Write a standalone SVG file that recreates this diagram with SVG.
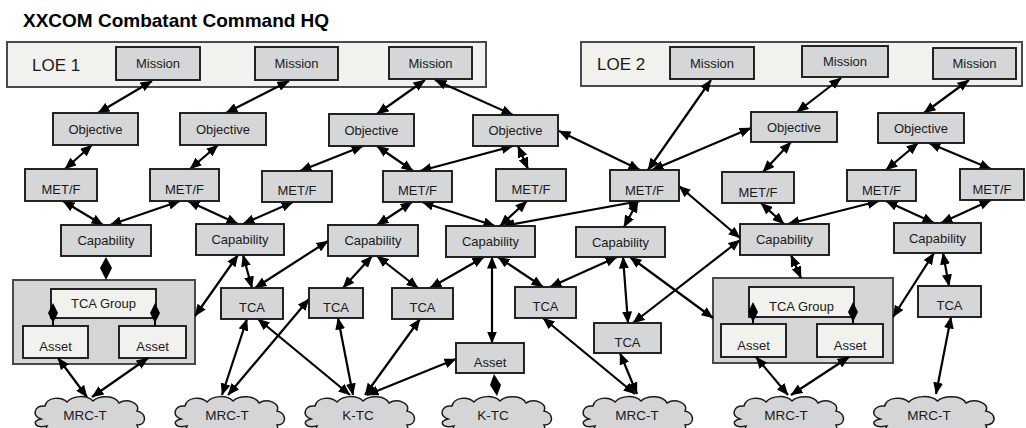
<svg xmlns="http://www.w3.org/2000/svg" xmlns:xlink="http://www.w3.org/1999/xlink" width="1026" height="428" viewBox="0 0 1026 428">
  <style>
    .box{fill:#d5d6d8;stroke:#1a1a1a;stroke-width:1.9}
    .lt{fill:#f1f1ed;stroke:#1a1a1a;stroke-width:1.9}
    .band{fill:#f1f1ed;stroke:#4a4a4a;stroke-width:2}
    .grp{fill:#d5d5d6;stroke:#4a4a4a;stroke-width:2}
    .cloud{fill:#d5d5d7;stroke:#1a1a1a;stroke-width:1.5}
    .dia{fill:#000}
    text{font-family:"Liberation Sans",Arial,Helvetica,sans-serif;font-size:13px;fill:#1a1a1a;text-anchor:middle}
    .title{font-size:19px;font-weight:bold;text-anchor:start;fill:#000}
    .loe{font-size:17px;text-anchor:start}
    .ctext{font-size:13.5px}
    #connectors line{stroke:#000;stroke-width:2.2;marker-start:url(#ah);marker-end:url(#ah)}
  </style>
  <defs>
    <marker id="ah" viewBox="0 0 12 10" refX="11.5" refY="5" markerWidth="12" markerHeight="10" markerUnits="userSpaceOnUse" orient="auto-start-reverse">
      <path d="M0,0 L12,5 L0,10 z" fill="#000"/>
    </marker>
    <path id="cloud" class="cloud" d="M -48,4 C -58,0 -54,-10 -44,-9 C -42,-18 -28,-19 -22,-13 C -16,-20 -2,-20 4,-14 C 10,-20 26,-20 30,-12 C 38,-17 52,-12 48,-4 C 58,-2 58,10 48,10 C 52,18 40,22 32,16 C 26,22 12,22 6,17 C -2,22 -18,22 -22,16 C -30,21 -46,18 -42,11 C -54,14 -58,6 -48,4 Z"/>
  </defs>

  <text class="title" x="23" y="27">XXCOM Combatant Command HQ</text>

  <!-- Line-of-effort bands -->
  <g id="loe1">
    <rect class="band" x="7" y="42" width="479" height="45"/>
    <text class="loe" x="32" y="71">LOE 1</text>
  </g>
  <g id="loe2">
    <rect class="band" x="581" y="42" width="441" height="44"/>
    <text class="loe" x="597" y="70">LOE 2</text>
  </g>

  <!-- TCA group containers -->
  <g id="tcaGroup1">
    <rect class="grp" x="13" y="280" width="182" height="84"/>
    <rect class="lt" x="51" y="289" width="105" height="29"/>
    <text x="103.5" y="308">TCA Group</text>
    <rect class="lt" x="23" y="326" width="65" height="32"/>
    <text x="55.5" y="351">Asset</text>
    <rect class="lt" x="119" y="326" width="67" height="32"/>
    <text x="152.5" y="351">Asset</text>
    <line x1="53" y1="318" x2="53" y2="326" stroke="#000" stroke-width="2"/>
    <polygon class="dia" points="53,303 58,313 53,323 48,313"/>
    <line x1="155" y1="318" x2="155" y2="326" stroke="#000" stroke-width="2"/>
    <polygon class="dia" points="155,303 160,313 155,323 150,313"/>
  </g>
  <g id="tcaGroup2">
    <rect class="grp" x="713" y="278" width="180" height="85"/>
    <rect class="lt" x="749" y="287" width="105" height="30"/>
    <text x="801.5" y="311">TCA Group</text>
    <rect class="lt" x="721" y="324" width="65" height="33"/>
    <text x="753.5" y="349.5">Asset</text>
    <rect class="lt" x="817" y="324" width="66" height="33"/>
    <text x="850" y="349.5">Asset</text>
    <line x1="753" y1="317" x2="753" y2="324" stroke="#000" stroke-width="2"/>
    <polygon class="dia" points="753,302 758,312 753,322 748,312"/>
    <line x1="853" y1="317" x2="853" y2="324" stroke="#000" stroke-width="2"/>
    <polygon class="dia" points="853,302 858,312 853,322 848,312"/>
  </g>

  <!-- Connectors -->
  <g id="connectors">
    <line x1="152" y1="81" x2="98" y2="113"/>
    <line x1="289" y1="81" x2="226" y2="113"/>
    <line x1="425" y1="80" x2="377" y2="114"/>
    <line x1="435" y1="80" x2="513" y2="115"/>
    <line x1="711" y1="80" x2="648" y2="170"/>
    <line x1="559" y1="131" x2="640" y2="170"/>
    <line x1="652" y1="170" x2="751" y2="128"/>
    <line x1="841" y1="78" x2="797" y2="112"/>
    <line x1="969" y1="80" x2="924" y2="113"/>
    <line x1="92" y1="145" x2="65" y2="169"/>
    <line x1="218" y1="145" x2="190" y2="169"/>
    <line x1="363" y1="146" x2="300" y2="171"/>
    <line x1="377" y1="146" x2="413" y2="171"/>
    <line x1="513" y1="146" x2="420" y2="171"/>
    <line x1="518" y1="146" x2="528" y2="169"/>
    <line x1="791" y1="142" x2="763" y2="172"/>
    <line x1="918" y1="143" x2="886" y2="170"/>
    <line x1="929" y1="143" x2="991" y2="169"/>
    <line x1="63" y1="201" x2="103" y2="225"/>
    <line x1="110" y1="225" x2="180" y2="201"/>
    <line x1="188" y1="201" x2="238" y2="224"/>
    <line x1="293" y1="202" x2="243" y2="224"/>
    <line x1="412" y1="202" x2="377" y2="225"/>
    <line x1="422" y1="202" x2="495" y2="226"/>
    <line x1="527" y1="201" x2="500" y2="226"/>
    <line x1="640" y1="201" x2="503" y2="226"/>
    <line x1="638" y1="201" x2="624" y2="227"/>
    <line x1="679" y1="186" x2="740" y2="238"/>
    <line x1="761" y1="203" x2="784" y2="224"/>
    <line x1="788" y1="224" x2="879" y2="201"/>
    <line x1="886" y1="201" x2="934" y2="223"/>
    <line x1="991" y1="200" x2="941" y2="223"/>
    <line x1="238" y1="255" x2="195" y2="316"/>
    <line x1="243" y1="255" x2="252" y2="288"/>
    <line x1="328" y1="241" x2="255" y2="288"/>
    <line x1="372" y1="256" x2="343" y2="288"/>
    <line x1="377" y1="256" x2="418" y2="288"/>
    <line x1="484" y1="257" x2="430" y2="288"/>
    <line x1="492" y1="257" x2="492" y2="343"/>
    <line x1="498" y1="257" x2="543" y2="287"/>
    <line x1="617" y1="257" x2="550" y2="287"/>
    <line x1="623" y1="257" x2="628" y2="323"/>
    <line x1="630" y1="257" x2="713" y2="318"/>
    <line x1="740" y1="240" x2="633" y2="323"/>
    <line x1="791" y1="255" x2="801" y2="278"/>
    <line x1="934" y1="253" x2="893" y2="317"/>
    <line x1="943" y1="253" x2="949" y2="286"/>
    <line x1="58" y1="358" x2="87" y2="397"/>
    <line x1="148" y1="358" x2="92" y2="397"/>
    <line x1="247" y1="319" x2="222" y2="395"/>
    <line x1="228" y1="395" x2="309" y2="299"/>
    <line x1="258" y1="319" x2="350" y2="395"/>
    <line x1="338" y1="318" x2="353" y2="395"/>
    <line x1="420" y1="319" x2="365" y2="395"/>
    <line x1="456" y1="359" x2="367" y2="395"/>
    <line x1="543" y1="318" x2="635" y2="394"/>
    <line x1="620" y1="353" x2="637" y2="394"/>
    <line x1="756" y1="357" x2="788" y2="395"/>
    <line x1="849" y1="357" x2="791" y2="395"/>
    <line x1="951" y1="317" x2="936" y2="394"/>
    <!-- composition links -->
    <polygon class="dia" points="106,257 112,268 106,280 100,268"/>
    <polygon class="dia" points="494,374 501,385 497,396 490,385"/>
  </g>

  <!-- Missions -->
  <g id="mission1"><rect class="box" x="116" y="47" width="84" height="33"/><text x="158" y="68">Mission</text></g>
  <g id="mission2"><rect class="box" x="255" y="47" width="83" height="33"/><text x="296.5" y="68">Mission</text></g>
  <g id="mission3"><rect class="box" x="389" y="47" width="83" height="32"/><text x="430.5" y="67.5">Mission</text></g>
  <g id="mission4"><rect class="box" x="670" y="47" width="84" height="32"/><text x="712" y="67.5">Mission</text></g>
  <g id="mission5"><rect class="box" x="802" y="46" width="86" height="31"/><text x="845" y="66">Mission</text></g>
  <g id="mission6"><rect class="box" x="933" y="48" width="83" height="31"/><text x="974.5" y="68">Mission</text></g>

  <!-- Objectives -->
  <g id="objective1"><rect class="box" x="53" y="113" width="85" height="32"/><text x="95.5" y="133.5">Objective</text></g>
  <g id="objective2"><rect class="box" x="180" y="113" width="86" height="32"/><text x="223" y="133.5">Objective</text></g>
  <g id="objective3"><rect class="box" x="329" y="114" width="85" height="32"/><text x="371.5" y="134.5">Objective</text></g>
  <g id="objective4"><rect class="box" x="473" y="115" width="85" height="31"/><text x="515.5" y="135">Objective</text></g>
  <g id="objective5"><rect class="box" x="751" y="112" width="86" height="30"/><text x="794" y="131.5">Objective</text></g>
  <g id="objective6"><rect class="box" x="878" y="113" width="86" height="30"/><text x="921" y="132.5">Objective</text></g>

  <!-- MET/F -->
  <g id="metf1"><rect class="box" x="25" y="169" width="72" height="32"/><text x="61" y="194">MET/F</text></g>
  <g id="metf2"><rect class="box" x="150" y="169" width="69" height="32"/><text x="184.5" y="194">MET/F</text></g>
  <g id="metf3"><rect class="box" x="262" y="171" width="70" height="31"/><text x="297" y="195">MET/F</text></g>
  <g id="metf4"><rect class="box" x="383" y="171" width="69" height="31"/><text x="417.5" y="195">MET/F</text></g>
  <g id="metf5"><rect class="box" x="496" y="169" width="70" height="32"/><text x="531" y="194">MET/F</text></g>
  <g id="metf6"><rect class="box" x="610" y="170" width="69" height="31"/><text x="644.5" y="194.5">MET/F</text></g>
  <g id="metf7"><rect class="box" x="722" y="172" width="72" height="31"/><text x="758" y="196.5">MET/F</text></g>
  <g id="metf8"><rect class="box" x="847" y="170" width="69" height="31"/><text x="881.5" y="194.5">MET/F</text></g>
  <g id="metf9"><rect class="box" x="960" y="169" width="64" height="31"/><text x="992" y="193.5">MET/F</text></g>

  <!-- Capabilities -->
  <g id="capability1"><rect class="box" x="61" y="225" width="90" height="31"/><text x="106" y="245">Capability</text></g>
  <g id="capability2"><rect class="box" x="196" y="224" width="88" height="31"/><text x="240" y="244">Capability</text></g>
  <g id="capability3"><rect class="box" x="328" y="225" width="90" height="31"/><text x="373" y="245">Capability</text></g>
  <g id="capability4"><rect class="box" x="446" y="226" width="89" height="31"/><text x="490.5" y="246">Capability</text></g>
  <g id="capability5"><rect class="box" x="576" y="227" width="89" height="30"/><text x="620.5" y="246.5">Capability</text></g>
  <g id="capability6"><rect class="box" x="740" y="224" width="89" height="31"/><text x="784.5" y="244">Capability</text></g>
  <g id="capability7"><rect class="box" x="894" y="223" width="87" height="30"/><text x="937.5" y="242.5">Capability</text></g>

  <!-- TCAs -->
  <g id="tca1"><rect class="box" x="221" y="288" width="62" height="31"/><text x="252" y="312">TCA</text></g>
  <g id="tca2"><rect class="box" x="309" y="288" width="54" height="30"/><text x="336" y="311.5">TCA</text></g>
  <g id="tca3"><rect class="box" x="392" y="288" width="61" height="31"/><text x="422.5" y="312">TCA</text></g>
  <g id="tca4"><rect class="box" x="515" y="287" width="61" height="31"/><text x="545.5" y="311">TCA</text></g>
  <g id="tca5"><rect class="box" x="594" y="323" width="67" height="30"/><text x="627.5" y="347">TCA</text></g>
  <g id="tca6"><rect class="box" x="918" y="286" width="63" height="31"/><text x="949.5" y="310">TCA</text></g>

  <g id="asset"><rect class="box" x="456" y="343" width="68" height="30"/><text x="490" y="367">Asset</text></g>

  <!-- Target clouds -->
  <g id="cloud1"><use xlink:href="#cloud" transform="translate(89,415)"/><text class="ctext" x="85" y="420">MRC-T</text></g>
  <g id="cloud2"><use xlink:href="#cloud" transform="translate(229,415)"/><text class="ctext" x="227" y="420">MRC-T</text></g>
  <g id="cloud3"><use xlink:href="#cloud" transform="translate(359,415)"/><text class="ctext" x="358" y="420">K-TC</text></g>
  <g id="cloud4"><use xlink:href="#cloud" transform="translate(496,415)"/><text class="ctext" x="493" y="420">K-TC</text></g>
  <g id="cloud5"><use xlink:href="#cloud" transform="translate(637,415)"/><text class="ctext" x="637" y="420">MRC-T</text></g>
  <g id="cloud6"><use xlink:href="#cloud" transform="translate(788,415)"/><text class="ctext" x="786" y="420">MRC-T</text></g>
  <g id="cloud7"><use xlink:href="#cloud" transform="translate(933,415) scale(1.1,1)"/><text class="ctext" x="929" y="420">MRC-T</text></g>
</svg>
